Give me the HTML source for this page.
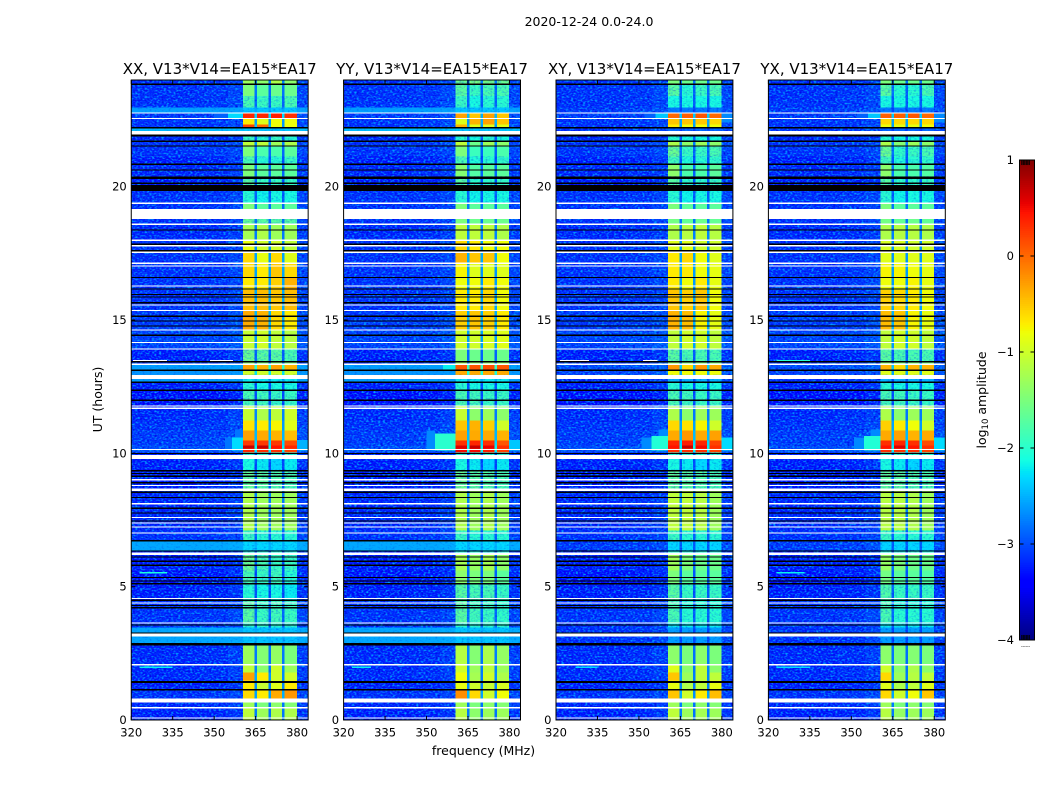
<!DOCTYPE html>
<html lang="en">
<head>
<meta charset="utf-8">
<title>2020-12-24 amplitude waterfall</title>
<style>
html,body{margin:0;padding:0;background:#fff}
svg{display:block}
text{font-family:"DejaVu Sans","Liberation Sans",sans-serif;fill:#000}
</style>
</head>
<body>
<svg id="fig" xmlns="http://www.w3.org/2000/svg" width="1050" height="800" viewBox="0 0 1050 800">
  <defs>
    <filter id="speckle" x="0" y="0" width="1" height="1" color-interpolation-filters="sRGB">
      <feTurbulence type="fractalNoise" baseFrequency="0.42 0.62" numOctaves="1" seed="7" result="n"/>
      <feColorMatrix in="n" type="matrix" values="0 0 0 0 0  0 0 0 0 0.62  0 0 0 0 1  3.4 0 0 0 -1.55" result="light"/>
      <feColorMatrix in="n" type="matrix" values="0 0 0 0 0  0 0 0 0 0  0 0 0 0 0.85  0 3 0 0 -1.6" result="dark"/>
      <feMerge><feMergeNode in="light"/><feMergeNode in="dark"/></feMerge>
    </filter>
  </defs>
  <rect width="1050" height="800" fill="#fff"/>
  <text x="589" y="26" font-size="12.5" text-anchor="middle">2020-12-24 0.0-24.0</text>
  <text x="483.5" y="755" font-size="12.5" text-anchor="middle">frequency (MHz)</text>
  <text x="102" y="399.5" font-size="12.5" text-anchor="middle" transform="rotate(-90 102 399.5)">UT (hours)</text>
  <g id="panels"></g>
  <g id="colorbar"></g>
  <text x="986" y="400" font-size="12.5" text-anchor="middle" transform="rotate(-90 986 400)">log<tspan font-size="8.5" dy="2">10</tspan><tspan dy="-2"> amplitude</tspan></text>
</svg>
<script>
// ---- categories ----
const panelTitles = ["XX, V13*V14=EA15*EA17","YY, V13*V14=EA15*EA17","XY, V13*V14=EA15*EA17","YX, V13*V14=EA15*EA17"];
const freqTicks = [320,335,350,365,380];
const utTicks = [0,5,10,15,20];
const colorbarTicks = [1,0,-1,-2,-3,-4];
const colorbarTickLabels = ["1","0","\u22121","\u22122","\u22123","\u22124"];
// Frequency extents (MHz)
const freqRange = [320,384];
const utRange = [0,24];
const levelRange = [-4,1];
const subbandEdges = [[360.5,364.6],[365.5,369.6],[370.5,374.6],[375.5,379.9]];
const backgroundEdges = [320,345,355,360.5];
const backgroundOffsets = [0,0.03,0.12];
const upperEdgeBand = [379.9,384];
const upperEdgeOffset = 0.12;

// Lower UT edge of each spectral row, top of the plot downward (hours)
const rowLowerUT = [23.81,23.40,22.96,22.78,22.57,22.34,22.20,22.08,21.90,21.70,
  21.52,21.14,20.83,20.39,19.84,19.37,19.16,18.59,17.99,17.54,
  17.13,16.60,16.12,15.37,14.62,13.90,13.45,13.34,13.11,12.94,
  12.70,12.36,11.80,11.24,10.86,10.49,10.30,10.19,10.04,9.78,
  9.36,8.61,7.11,6.70,6.36,6.18,5.61,5.12,4.48,3.65,
  3.47,2.87,2.08,1.78,1.48,1.11,0.81,0.66,0.43,0.00];

// Off-band background log10 amplitude per row
const bgCoPol = [-3.2,-3.2,-3.2,-2.6,-3.15,-3.2,-3.2,-2.45,-3.3,-3.25,
  -3.2,-3.2,-3.3,-3.25,-3.3,-3.2,-3.2,-3.2,-3.25,-3.2,
  -3.2,-3.2,-3.2,-3.2,-3.15,-3.1,-3.3,-3.2,-2.6,-2.65,
  -2.6,-3.3,-3.4,-3.25,-3.2,-3.15,-3.15,-3.05,-3,-3.3,
  -3.3,-3.3,-3.25,-3.2,-2.55,-3.3,-3.3,-3.35,-3.3,-3.2,
  -3.2,-2.55,-3.25,-3.25,-3.25,-3.3,-3.2,-3.2,-3.25,-3.3];
const bgCrossPol = [-3.2,-3.2,-3.2,-3.15,-3.15,-3.2,-3.2,-3.2,-3.3,-3.25,
  -3.2,-3.2,-3.3,-3.25,-3.3,-3.2,-3.2,-3.2,-3.25,-3.2,
  -3.2,-3.2,-3.2,-3.2,-3.15,-3.1,-3.3,-3.2,-3.05,-3.1,
  -3.2,-3.3,-3.4,-3.25,-3.2,-3.15,-3.15,-3.05,-3,-3.3,
  -3.3,-3.3,-3.25,-3.2,-3.15,-3.3,-3.3,-3.35,-3.3,-3.2,
  -3.2,-3.2,-3.25,-3.25,-3.25,-3.3,-3.2,-3.2,-3.25,-3.3];

// In-band log10 amplitude per row for the four sub-bands
const bandXX = [
[-1.3,-1.4,-1.2,-1.4],[-1.5,-1.7,-1.6,-1.6],[-1.8,-1.9,-1.9,-1.8],[-2.4,-2.4,-2.4,-2.4],[0.35,0.35,0.4,0.3],
[-0.7,-0.9,-0.8,-0.8],[0.2,0,-0.8,-0.8],[-2.4,-2.4,-2.4,-2.4],[-2.2,-2.2,-2.2,-2.2],[-1.9,-2,-1.9,-2],
[-1.1,-1.1,-1.3,-1.2],[-1.5,-1.8,-1.8,-1.7],[-1.8,-2,-2,-1.9],[-1.5,-1.7,-1.7,-1.7],[-1.7,-1.9,-1.9,-1.9],
[-2,-2.15,-2.1,-2.1],[-1.5,-1.7,-1.7,-1.7],[-1.6,-1.7,-1.7,-1.7],[-1.25,-1.2,-1.3,-1.3],[-0.85,-1,-1,-1.1],
[-0.6,-0.85,-0.6,-0.9],[-0.6,-0.7,-0.5,-0.6],[-0.7,-0.7,-0.55,-0.4],[-0.45,-0.45,-0.5,-0.45],[-0.35,-0.4,-0.6,-0.7],
[-1.05,-1,-1.1,-1.15],[-1.6,-1.7,-1.7,-1.8],[-1.4,-1.5,-1.5,-1.5],[-0.3,-0.4,-0.3,-0.4],[-1,-1,-1,-1],
[-2.2,-2.2,-2.2,-2.2],[-2,-2.1,-2.1,-2.1],[-1.8,-1.85,-1.9,-1.9],[-1.05,-1.2,-1.1,-1],[-0.65,-0.7,-0.75,-0.9],
[-0.3,-0.35,-0.4,-0.45],[0.25,0.25,0.25,0.15],[0.7,0.7,0.45,0.35],[0.35,0.3,0.3,0.2],[-2,-2,-2,-2],
[-2.1,-2.2,-2.3,-2.2],[-1.65,-1.7,-1.75,-1.8],[-1.2,-1.3,-1.3,-1.3],[-1.9,-2,-2,-2],[-2.3,-2.3,-2.3,-2.3],
[-2.1,-2.1,-2.1,-2.1],[-1.6,-1.8,-1.9,-1.9],[-1.8,-1.9,-1.85,-2],[-2,-2.1,-2.1,-2.2],[-1.7,-1.9,-1.85,-1.9],
[-2,-2,-2,-2],[-2.4,-2.4,-2.4,-2.4],[-1.3,-1.45,-1.35,-1.5],[-1.1,-1.4,-1,-1.3],[-0.3,-0.7,-1,-1],
[-0.7,-1.05,-0.9,-0.7],[-0.6,-0.7,-0.35,-0.25],[-1.5,-1.5,-1.5,-1.5],[-1.3,-1.5,-1.4,-1.45],[-1.1,-1.3,-1.2,-1.2]];

const bandYY = [
[-1.6,-1.5,-1.5,-1.6],[-1.7,-1.9,-1.8,-1.8],[-1.9,-2.1,-2,-2],[-2.4,-2.4,-2.4,-2.4],[-0.3,-0.5,-0.3,-0.5],
[-0.9,-0.4,-0.3,-0.5],[-0.4,-0.9,-0.9,-0.9],[-2.4,-2.4,-2.4,-2.4],[-2.2,-2.2,-2.2,-2.2],[-2,-2.1,-2,-2.1],
[-1.1,-1.6,-1.3,-1.4],[-1.5,-1.9,-1.9,-1.8],[-1.8,-2.05,-2,-1.95],[-1.45,-1.75,-1.7,-1.7],[-1.7,-1.95,-1.95,-1.9],
[-2,-2.15,-2.1,-2.1],[-1.5,-1.7,-1.7,-1.7],[-1.5,-1.6,-1.6,-1.6],[-1.1,-1.1,-1.1,-1.2],[-0.6,-0.7,-0.8,-0.8],
[-0.4,-0.5,-0.5,-0.8],[-0.75,-0.9,-0.9,-0.9],[-0.8,-0.8,-0.7,-0.8],[-0.7,-0.7,-0.6,-0.8],[-0.55,-0.5,-0.55,-0.7],
[-1,-1,-0.95,-0.9],[-1.5,-1.6,-1.6,-1.6],[-1.3,-1.4,-1.4,-1.4],[0.1,0.1,0.15,0.1],[-0.35,-0.35,-0.35,-0.35],
[-2.2,-2.2,-2.2,-2.2],[-2,-2.1,-2.1,-2.1],[-1.8,-1.85,-1.9,-1.9],[-1.05,-1.4,-1.3,-1.4],[-0.5,-0.4,-0.55,-1],
[-0.3,-0.35,-0.35,-0.4],[0.3,0.35,0.3,0.1],[0.6,0.7,0.55,0.3],[0.5,0.5,0.4,0.2],[-2,-2,-2,-2],
[-2.1,-2.2,-2.3,-2.2],[-1.6,-1.7,-1.75,-1.8],[-1.2,-1.3,-1.2,-1.3],[-1.9,-2,-2,-2],[-2.3,-2.3,-2.3,-2.3],
[-2.1,-2.1,-2.1,-2.1],[-1.25,-1.35,-1.25,-1.4],[-1.4,-1.5,-1.5,-1.7],[-1.7,-1.8,-1.8,-1.9],[-1.7,-1.85,-1.9,-1.95],
[-2,-2,-2,-2],[-2.4,-2.4,-2.4,-2.4],[-1.15,-1.45,-1.2,-1.35],[-1,-1.3,-1.1,-1.3],[-0.8,-1.25,-1,-1.2],
[-0.85,-1,-1.05,-0.95],[-0.2,-0.6,-1,-0.8],[-1.5,-1.5,-1.5,-1.5],[-1.3,-1.5,-1.4,-1.45],[-1.15,-1.4,-1.3,-1.3]];

const bandXY = [
[-1.5,-1.6,-1.6,-1.6],[-1.7,-2,-1.9,-1.8],[-2.1,-2.1,-2.1,-2.1],[-2.8,-2.8,-2.8,-2.8],[0,0.05,0.1,0],
[-0.5,-0.5,-0.5,-0.6],[-0.7,-0.8,-0.8,-0.8],[-2.9,-2.9,-2.9,-2.9],[-2.4,-2.4,-2.4,-2.4],[-2,-2.1,-2.1,-2.1],
[-1.2,-1.4,-1.3,-1.4],[-1.6,-1.9,-1.9,-1.8],[-1.85,-2.05,-2,-1.95],[-1.4,-1.8,-1.8,-1.7],[-1.7,-1.95,-1.95,-1.9],
[-2,-2.15,-2.1,-2.1],[-1.5,-1.7,-1.7,-1.7],[-1.55,-1.65,-1.6,-1.65],[-1.2,-1.15,-1.1,-1.15],[-0.9,-0.9,-1,-1],
[-0.7,-0.6,-0.8,-0.9],[-0.7,-0.7,-0.8,-0.85],[-0.7,-0.8,-0.7,-0.85],[-0.5,-0.55,-0.5,-0.8],[-0.4,-0.45,-0.75,-0.85],
[-1.1,-1,-1,-1.1],[-1.7,-1.8,-1.8,-1.8],[-1.4,-1.5,-1.5,-1.5],[-0.25,-0.6,-0.25,-0.35],[-0.8,-0.8,-0.8,-0.8],
[-2.5,-2.5,-2.5,-2.5],[-2,-2.1,-2.1,-2.1],[-1.8,-1.85,-1.9,-1.9],[-1.2,-1.4,-1.3,-1.3],[-0.6,-0.65,-0.75,-1],
[-0.35,-0.25,-0.35,-0.3],[0.35,0.4,0.35,0.2],[0.45,0.7,0.5,0.3],[0.3,0.3,0.3,0.2],[-2,-2,-2,-2],
[-2.1,-2.2,-2.3,-2.2],[-1.65,-1.7,-1.75,-1.8],[-1.1,-1.1,-1.15,-1.3],[-1.9,-2,-2,-2],[-2.3,-2.3,-2.3,-2.3],
[-2.1,-2.1,-2.1,-2.1],[-1.3,-1.5,-1.6,-1.6],[-1.5,-1.7,-1.7,-1.7],[-1.7,-1.9,-1.9,-1.9],[-1.8,-2,-2,-2],
[-2.2,-2.2,-2.2,-2.2],[-2.6,-2.6,-2.6,-2.6],[-1.4,-1.5,-1.4,-1.5],[-0.9,-1.4,-1.1,-1.4],[-0.5,-1.3,-1.1,-1.1],
[-0.85,-1.2,-1.1,-0.85],[-0.5,-1,-0.7,-0.45],[-1.5,-1.5,-1.5,-1.5],[-1.3,-1.5,-1.4,-1.45],[-1.1,-1.3,-1.25,-1.3]];

const bandYX = [
[-1.5,-1.6,-1.6,-1.6],[-1.7,-2,-2,-1.8],[-2.1,-2.1,-2.1,-2.1],[-2.8,-2.8,-2.8,-2.8],[0.05,0.05,0.1,0],
[-0.6,-0.6,-0.6,-0.6],[-0.8,-0.85,-0.85,-0.8],[-2.9,-2.9,-2.9,-2.9],[-2.4,-2.4,-2.4,-2.4],[-2,-2.1,-2.1,-2.1],
[-1.2,-1.45,-1.3,-1.4],[-1.6,-1.95,-1.9,-1.8],[-1.85,-2.05,-2,-1.95],[-1.4,-1.8,-1.8,-1.75],[-1.7,-1.95,-1.95,-1.9],
[-2,-2.15,-2.1,-2.1],[-1.5,-1.7,-1.7,-1.7],[-1.55,-1.65,-1.6,-1.65],[-1.2,-1.15,-1.15,-1.2],[-0.95,-0.95,-1,-1],
[-0.9,-0.9,-0.9,-0.9],[-0.75,-0.75,-0.8,-0.85],[-0.8,-0.8,-0.75,-0.85],[-0.55,-0.6,-0.7,-0.8],[-0.45,-0.5,-0.75,-0.85],
[-1.1,-1,-1,-1.1],[-1.7,-1.8,-1.8,-1.8],[-1.4,-1.5,-1.5,-1.5],[-0.4,-0.6,-0.4,-0.4],[-0.9,-0.9,-0.9,-0.9],
[-2.5,-2.5,-2.5,-2.5],[-2,-2.1,-2.1,-2.1],[-1.8,-1.85,-1.9,-1.9],[-1.2,-1.4,-1.3,-1.3],[-0.55,-0.7,-0.8,-1],
[-0.35,-0.3,-0.4,-0.35],[0.3,0.35,0.3,0.15],[0.45,0.6,0.45,0.3],[0.3,0.3,0.3,0.2],[-2,-2,-2,-2],
[-2.1,-2.2,-2.3,-2.2],[-1.65,-1.7,-1.75,-1.8],[-1.15,-1.15,-1.2,-1.3],[-1.9,-2,-2,-2],[-2.3,-2.3,-2.3,-2.3],
[-2.1,-2.1,-2.1,-2.1],[-1.35,-1.5,-1.6,-1.6],[-1.55,-1.7,-1.7,-1.75],[-1.75,-1.9,-1.9,-1.9],[-1.8,-2,-2,-2],
[-2.2,-2.2,-2.2,-2.2],[-2.6,-2.6,-2.6,-2.6],[-1.4,-1.5,-1.45,-1.5],[-1,-1.4,-1.2,-1.4],[-0.6,-1.3,-1.15,-1.1],
[-0.9,-1.2,-1.1,-0.9],[-0.6,-1,-0.8,-0.5],[-1.5,-1.5,-1.5,-1.5],[-1.3,-1.5,-1.4,-1.45],[-1.15,-1.35,-1.3,-1.3]];

// Leakage beside the band: [panel, UT low, UT high, MHz low, MHz high, log10 amplitude]
const leakage = [
[0,10.10,10.60,354,356.5,-2.8],[0,10.10,10.60,356.5,360.5,-2.3],[0,10.60,10.90,357.5,360.5,-2.8],[0,10.10,10.50,379.9,384,-2.5],[0,22.55,22.78,350,355,-2.9],[0,22.55,22.78,355,360.5,-2.3],
[1,10.10,10.86,350,353,-2.7],[1,10.10,10.75,353,360.5,-2.0],[1,10.10,10.50,379.9,384,-2.4],[1,13.11,13.34,352,356,-2.6],[1,13.11,13.34,356,360.5,-2.2],
[2,10.10,10.60,351,354.5,-2.7],[2,10.10,10.65,354.5,360.5,-2.05],[2,10.65,10.90,357,360.5,-2.7],[2,10.10,10.60,379.9,384,-2.3],[2,22.55,22.78,352,356,-2.9],[2,22.55,22.78,356,360.5,-2.4],[2,22.40,22.78,379.9,384,-2.7],
[3,10.10,10.60,351,354.5,-2.7],[3,10.10,10.65,354.5,360.5,-2.05],[3,10.65,10.90,357,360.5,-2.7],[3,10.10,10.60,379.9,384,-2.3],[3,22.55,22.78,352,356,-2.9],[3,22.55,22.78,356,360.5,-2.4],[3,22.40,22.78,379.9,384,-2.7]];

// Narrow interference streaks: [panel, UT, MHz low, MHz high, log10 amplitude; null = saturated white]
const interference = [
[0,13.48,320.6,333,null],[0,13.48,348.4,356.8,null],[0,5.52,323,333,-2.1],[0,1.98,323,335,-2.2],
[1,1.98,323,330,-2.2],
[2,13.48,321.5,332,null],[2,13.48,351.4,356.8,null],[2,1.98,327,335,-2.3],
[3,13.48,323,335,-2.0],[3,5.52,323,333,-2.2],[3,1.98,323,335,-2.3]];

// Flagged time ranges, UT hours [low, high]
const whiteFlagUT = [[22.74,22.79],[22.53,22.58],[22.00,22.09],[21.96,22.00],[19.35,19.40],[18.78,19.17],[18.57,18.62],[17.96,18.01],[17.76,17.81],
[17.51,17.56],[17.10,17.15],[17.00,17.05],[16.25,16.30],[15.54,15.59],[15.33,15.38],[14.60,14.65],[14.13,14.18],[13.89,13.94],[13.32,13.37],
[12.78,12.94],[11.75,11.80],[11.67,11.72],[10.12,10.17],[9.78,9.94],[8.99,9.04],[8.77,8.82],[8.59,8.69],[8.09,8.14],[7.57,7.62],[7.36,7.41],
[7.21,7.26],[6.99,7.04],[6.18,6.28],[4.53,4.58],[4.36,4.41],[3.61,3.66],[3.13,3.25],[2.05,2.10],[0.66,0.80],[0.44,0.49],[0.05,0.10]];
const blackFlagUT = [[23.81,23.86],[22.19,22.24],[21.89,21.95],[21.68,21.73],[21.50,21.55],[20.81,20.86],[20.60,20.65],[20.28,20.39],[20.10,20.15],[19.84,20.06],
[18.35,18.40],[17.81,17.86],[17.57,17.62],[16.57,16.62],[16.14,16.19],[15.93,15.98],[15.84,15.89],[15.62,15.67],[15.11,15.16],[14.94,14.99],[14.75,14.80],[14.40,14.45],
[13.41,13.46],[13.09,13.14],[12.64,12.69],[12.34,12.39],[11.96,12.01],[9.97,10.02],[9.32,9.37],[9.22,9.27],[9.12,9.17],[8.87,8.92],[8.52,8.57],[8.32,8.37],[7.92,7.97],
[7.74,7.79],[7.44,7.49],[6.70,6.75],[6.31,6.36],[6.09,6.14],[5.93,5.98],[5.78,5.83],[5.32,5.37],[5.19,5.24],[5.09,5.14],[4.46,4.51],[4.27,4.32],[4.18,4.23],
[3.54,3.59],[3.24,3.29],[2.84,2.89],[2.79,2.84],[1.42,1.47],[1.38,1.43],[1.11,1.16]];

// Colorbar sample levels, top to bottom
const colorbarLevels = [1,0.9,0.8,0.7,0.6,0.5,0.4,0.3,0.2,0.1,0,-0.1,-0.2,-0.3,-0.4,-0.5,-0.6,-0.7,-0.8,-0.9,-1,-1.1,-1.2,-1.3,-1.4,-1.5,-1.6,-1.7,-1.8,-1.9,-2,-2.1,-2.2,-2.3,-2.4,-2.5,-2.6,-2.7,-2.8,-2.9,-3,-3.1,-3.2,-3.3,-3.4,-3.5,-3.6,-3.7,-3.8,-3.9];
const colorbarMinorFractions = [0.1,0.2,0.3,0.4,0.5,0.6];

const bandsByPanel = [bandXX,bandYY,bandXY,bandYX];
const bgByPanel = [bgCoPol,bgCoPol,bgCrossPol,bgCrossPol];
const panelKeys = ["xx","yy","xy","yx"];

// ---- layout & scales ----
const NS = "http://www.w3.org/2000/svg";
const panelLefts = [131.25,343.6,556,768.4];
const panelWidth = 176.9, axTop = 80, axBottom = 720;
const cbLeft = 1019.5, cbRight = 1034.5, cbTop = 160, cbBottom = 640;
const xScale = (p,f)=>panelLefts[p]+(f-freqRange[0])/(freqRange[1]-freqRange[0])*panelWidth;
const yScale = u=>axBottom-(u-utRange[0])/(utRange[1]-utRange[0])*(axBottom-axTop);
const cbScale = v=>cbBottom-(v-levelRange[0])/(levelRange[1]-levelRange[0])*(cbBottom-cbTop);

function interp(pts,t){
  for(let i=1;i<pts.length;i++){
    if(t<=pts[i][0]){
      const a=pts[i-1],b=pts[i];
      return a[1]+(b[1]-a[1])*(t-a[0])/(b[0]-a[0]);
    }
  }
  return pts[pts.length-1][1];
}
const jetR=[[0,0],[.35,0],[.66,1],[.89,1],[1,.5]];
const jetG=[[0,0],[.125,0],[.375,1],[.64,1],[.91,0],[1,0]];
const jetB=[[0,.5],[.11,1],[.34,1],[.65,0],[1,0]];
function jet(v){
  const t=Math.max(0,Math.min(1,(v-levelRange[0])/(levelRange[1]-levelRange[0])));
  return "rgb("+Math.round(255*interp(jetR,t))+","+Math.round(255*interp(jetG,t))+","+Math.round(255*interp(jetB,t))+")";
}
function makeRect(parent,x,y,w,h,fill){
  const r=document.createElementNS(NS,"rect");
  r.setAttribute("x",x.toFixed(2));
  r.setAttribute("y",y.toFixed(2));
  r.setAttribute("width",Math.max(0,w).toFixed(2));
  r.setAttribute("height",Math.max(0,h).toFixed(2));
  r.setAttribute("fill",fill);
  r.setAttribute("shape-rendering","crispEdges");
  parent.appendChild(r);
  return r;
}
function makeLine(parent,x1,y1,x2,y2,stroke){
  const l=document.createElementNS(NS,"line");
  l.setAttribute("x1",x1);
  l.setAttribute("y1",y1);
  l.setAttribute("x2",x2);
  l.setAttribute("y2",y2);
  l.setAttribute("stroke",stroke);
  l.setAttribute("stroke-width","1");
  parent.appendChild(l);
  return l;
}
function makeText(parent,x,y,size,anchor,str){
  const t=document.createElementNS(NS,"text");
  t.setAttribute("x",x);
  t.setAttribute("y",y);
  t.setAttribute("font-size",size);
  t.setAttribute("text-anchor",anchor);
  t.textContent=str;
  parent.appendChild(t);
  return t;
}

// ---- panels ----
const panelsRoot=document.getElementById("panels");
panelTitles.forEach((title,p)=>{
  const g=document.createElementNS(NS,"g");
  
  
  panelsRoot.appendChild(g);
  const bands=bandsByPanel[p], bg=bgByPanel[p];
  const x=f=>xScale(p,f);

  // off-band background cells
  rowLowerUT.forEach((lo,r)=>{
    const hi=r===0?utRange[1]:rowLowerUT[r-1];
    const top=yScale(hi), h=yScale(lo)-top;
    backgroundOffsets.forEach((off,c)=>{
      const cell=makeRect(g,x(backgroundEdges[c]),top,x(backgroundEdges[c+1])-x(backgroundEdges[c]),h,jet(bg[r]+off));
      
      
    });
    const edge=makeRect(g,x(upperEdgeBand[0]),top,x(upperEdgeBand[1])-x(upperEdgeBand[0]),h,jet(bg[r]+upperEdgeOffset));
    
    
  });

  // instrument-noise texture on the off-band background
  const noise=makeRect(g,panelLefts[p],axTop,panelWidth,axBottom-axTop,"#000");
  noise.setAttribute("filter","url(#speckle)");
  noise.removeAttribute("shape-rendering");
  
  

  // bright broadband rows keep their cleaner colour over the texture
  rowLowerUT.forEach((lo,r)=>{
    if(bg[r]<=-2.8) return;
    const hi=r===0?utRange[1]:rowLowerUT[r-1];
    const wash=makeRect(g,panelLefts[p],yScale(hi),panelWidth,yScale(lo)-yScale(hi),jet(bg[r]));
    wash.setAttribute("opacity","0.72");
    
    
  });

  // leakage beside the band
  leakage.filter(e=>e[0]===p).forEach(e=>{
    const c=makeRect(g,x(e[3]),yScale(e[2]),x(e[4])-x(e[3]),yScale(e[1])-yScale(e[2]),jet(e[5]));
    
    
  });

  // interference streaks
  interference.filter(e=>e[0]===p).forEach(e=>{
    const c=makeRect(g,x(e[2]),yScale(e[1]+0.025),x(e[3])-x(e[2]),yScale(e[1]-0.025)-yScale(e[1]+0.025),e[4]===null?"#fff":jet(e[4]));
    
    
  });

  // in-band cells and gaps between sub-bands
  rowLowerUT.forEach((lo,r)=>{
    const hi=r===0?utRange[1]:rowLowerUT[r-1];
    const top=yScale(hi), h=yScale(lo)-top;
    subbandEdges.forEach((edges,s)=>{
      const cell=makeRect(g,x(edges[0]),top,x(edges[1])-x(edges[0]),h,jet(bands[r][s]));
      
      
      if(s<subbandEdges.length-1){
        const gapLevel=bg[r]*0.76+bands[r][s]*0.24;
        const gap=makeRect(g,x(edges[1]),top,x(subbandEdges[s+1][0])-x(edges[1]),h,jet(gapLevel));
        
        
      }
    });
    // faint rows show the receiver noise through the band
    if(bands[r][0]<=-1.6){
      const grain=makeRect(g,x(subbandEdges[0][0]),top,x(subbandEdges[3][1])-x(subbandEdges[0][0]),h,"#000");
      grain.removeAttribute("shape-rendering");
      grain.setAttribute("filter","url(#speckle)");
      grain.setAttribute("opacity","0.4");
      
      
    }
  });

  // flagged rows
  whiteFlagUT.forEach(f=>{
    const c=makeRect(g,panelLefts[p],yScale(f[1]),panelWidth,yScale(f[0])-yScale(f[1]),"#fff");
    
    
  });
  blackFlagUT.forEach(f=>{
    const c=makeRect(g,panelLefts[p],yScale(f[1]),panelWidth,yScale(f[0])-yScale(f[1]),"#000");
    
    
  });

  // ticks
  freqTicks.forEach(f=>{
    const a=makeLine(g,x(f),axBottom,x(f),axBottom-4,"#000");
    
    
    const b=makeLine(g,x(f),axTop,x(f),axTop+4,"#000");
    
    
    const lab=makeText(g,x(f),736.5,11.5,"middle",String(f));
    
    
  });
  utTicks.forEach(u=>{
    const a=makeLine(g,panelLefts[p],yScale(u),panelLefts[p]+4,yScale(u),"#000");
    
    
    const b=makeLine(g,panelLefts[p]+panelWidth,yScale(u),panelLefts[p]+panelWidth-4,yScale(u),"#000");
    
    
    const lab=makeText(g,panelLefts[p]-4.5,yScale(u)+4,11.5,"end",String(u));
    
    
  });

  // frame and title
  const frame=document.createElementNS(NS,"rect");
  frame.setAttribute("x",panelLefts[p]);
  frame.setAttribute("y",axTop);
  frame.setAttribute("width",panelWidth);
  frame.setAttribute("height",axBottom-axTop);
  frame.setAttribute("fill","none");
  frame.setAttribute("stroke","#000");
  frame.setAttribute("stroke-width","1");
  
  
  g.appendChild(frame);
  const ttl=makeText(g,panelLefts[p]+panelWidth/2,74,15,"middle",title);
  
  
});

// ---- colorbar ----
const cb=document.getElementById("colorbar");
colorbarLevels.forEach(v=>{
  const top=cbScale(v), bottom=cbScale(v-0.1);
  const steps=[0,1,2,3,4];
  steps.forEach(s=>{
    const c=makeRect(cb,cbLeft,top+(bottom-top)*s/5,cbRight-cbLeft,(bottom-top)/5+0.5,jet(v-0.02*s-0.01));
    
    
  });
});
colorbarTicks.forEach((v,i)=>{
  const y=cbScale(v);
  if(v!==1&&v!==-4){
    const a=makeLine(cb,cbLeft,y,cbLeft+4,y,"#000");
    
    
    const b=makeLine(cb,cbRight,y,cbRight-4,y,"#000");
    
    
  }
  const lab=makeText(cb,1014,y+4,11.5,"end",colorbarTickLabels[i]);
  
  
});
colorbarMinorFractions.forEach(fr=>{
  const xp=cbLeft+(cbRight-cbLeft)*fr+0.8;
  const a=makeLine(cb,xp,cbTop,xp,cbTop+5,"#000");
  
  
  const b=makeLine(cb,xp,cbBottom,xp,cbBottom-5,"#000");
  
  
  const d=document.createElementNS(NS,"rect");
  d.setAttribute("x",xp-0.5);
  d.setAttribute("y",646);
  d.setAttribute("width",1);
  d.setAttribute("height",1);
  d.setAttribute("fill","#888");
  
  
  cb.appendChild(d);
});
const cbFrame=document.createElementNS(NS,"rect");
cbFrame.setAttribute("x",cbLeft);
cbFrame.setAttribute("y",cbTop);
cbFrame.setAttribute("width",cbRight-cbLeft);
cbFrame.setAttribute("height",cbBottom-cbTop);
cbFrame.setAttribute("fill","none");
cbFrame.setAttribute("stroke","#000");
cbFrame.setAttribute("stroke-width","1");


cb.appendChild(cbFrame);
</script>
</body>
</html>
